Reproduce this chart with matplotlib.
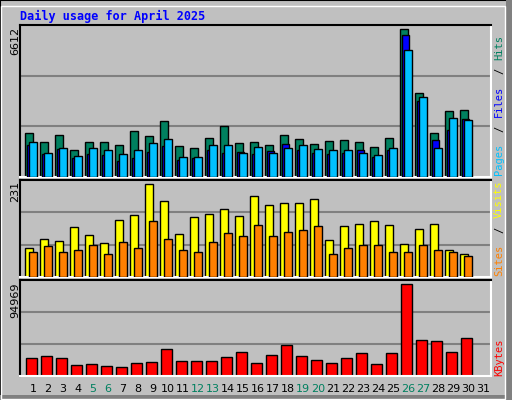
import matplotlib
matplotlib.use("Agg")
import matplotlib.pyplot as plt
from matplotlib.patches import Rectangle
import numpy as np

days = list(range(1, 31))
tick_labels = [str(d) for d in range(1, 32)]
weekend = [5, 6, 12, 13, 19, 20, 26, 27]
hits = [1990,1586,1900,1227,1586,1586,1451,2079,1855,2528,1406,1316,1765,2304,1541,
        1586,1451,1900,1720,1496,1631,1676,1586,1361,1765,6612,3785,1990,2977,3022]
files = [1451,1047,1272,868,1047,1002,733,868,1137,1406,778,868,1227,1092,1137,
         1047,1182,1496,1227,1092,1047,1092,1227,913,1227,6343,3396,1676,2124,2618]
pages = [1586,1092,1316,957,1316,1227,1047,1227,1541,1720,913,913,1451,1451,1092,
         1361,1092,1316,1451,1272,1227,1227,1092,1002,1316,5670,3605,1316,2663,2573]
visits = [71,93,88,123,103,83,141,153,231,188,106,148,156,168,151,
          201,178,183,183,193,91,126,131,138,128,81,118,131,68,58]
sites = [63,76,61,66,78,56,86,71,138,93,66,63,86,108,101,
         128,101,111,116,126,58,71,78,78,63,63,78,68,61,53]
kbytes = [18992,21063,18992,11740,12776,10704,9668,13812,14848,28315,15884,15884,15884,20027,25207,
          13812,22099,32458,21063,16920,13812,18992,24171,12776,24171,94969,37638,36602,25207,39710]

BG = "#C0C0C0"
W, H = 512, 400
fig = plt.figure(figsize=(5.12, 4.0), dpi=100, facecolor=BG)

fig.patches.append(Rectangle((0, 0), 1, 1, transform=fig.transFigure, fill=False, ec="black", lw=1.5))
fig.patches.append(Rectangle((506/W, 0), 6/W, 1, transform=fig.transFigure, fc="#808080", ec="none"))
fig.patches.append(Rectangle((0, 0), 1, 5/H, transform=fig.transFigure, fc="#808080", ec="none"))
fig.patches.append(Rectangle((1/W, 1/H), 504/W, 393/H, transform=fig.transFigure, fill=False, ec="white", lw=1))

def mkax(top, bottom):
    ax = fig.add_axes([20/W, 1 - bottom/H, (491-20)/W, (bottom-top)/H])
    ax.set_facecolor(BG)
    ax.set_xlim(1 - 13/15, 31 + 0.53)
    for s in ["top", "left"]:
        ax.spines[s].set_color("black"); ax.spines[s].set_linewidth(1.5)
    for s in ["bottom", "right"]:
        ax.spines[s].set_color("white"); ax.spines[s].set_linewidth(1.5)
    ax.set_xticks([]); ax.set_yticks([])
    return ax

def grid(ax, top):
    ax.set_ylim(0, top)
    for f in (1/3, 2/3):
        ax.axhline(top*f, color="#808080", lw=1.5, zorder=0)

x = np.array(days)
ax1 = mkax(25, 177)
grid(ax1, 6612*1.03)
ax1.bar(x - 0.27, hits, width=0.49, color="#00805F", ec="black", lw=1, zorder=2)
ax1.bar(x - 0.17, files, width=0.5, color="#0000FF", ec="black", lw=1, zorder=3)
ax1.bar(x, pages, width=0.49, color="#00C0FF", ec="black", lw=1, zorder=4)

ax2 = mkax(180, 277)
grid(ax2, 240)
ax2.bar(x - 0.27, visits, width=0.53, color="#FFFF00", ec="black", lw=1, zorder=2)
ax2.bar(x, sites, width=0.49, color="#FF8000", ec="black", lw=1, zorder=3)

ax3 = mkax(280, 376)
grid(ax3, 94969*1.044)
ax3.bar(x - 0.1, kbytes, width=0.7, color="#FF0000", ec="black", lw=1, zorder=2)

fig.text(20/W, 1 - 16/H, "Daily usage for April 2025", color="#0000FF", fontsize=8.5,
         fontweight="bold", family="DejaVu Sans Mono", va="center", ha="left")

for lab, ytop in (("6612", 27), ("231", 181), ("94969", 283)):
    fig.text(15/W, 1 - ytop/H, lab, rotation=90, fontsize=8, ha="center", va="top",
             family="DejaVu Sans")

for i, lab in enumerate(tick_labels):
    d = i + 1
    px = 33 + (d - 1) * 15
    fig.text(px/W, 1 - 389/H, lab, fontsize=8, ha="center", va="center",
             color="#00805F" if d in weekend else "black")

def vlabel(ybottom, pieces):
    cw = 7.2
    for idx, txt, col in pieces:
        fig.text(499/W, 1 - (ybottom - idx*cw)/H, txt, rotation=90, fontsize=7.5,
                 family="DejaVu Sans Mono", color=col, ha="center", va="bottom")

vlabel(175, [(0, "Pages", "#00C0FF"), (6, "/", "black"), (8, "Files", "#0000FF"),
             (14, "/", "black"), (16, "Hits", "#00805F")])
vlabel(276, [(0, "Sites", "#FF8000"), (6, "/", "black"), (8, "Visits", "#FFFF00")])
vlabel(376, [(0, "KBytes", "#FF0000")])

fig.savefig("out.png", dpi=100, facecolor=BG)
